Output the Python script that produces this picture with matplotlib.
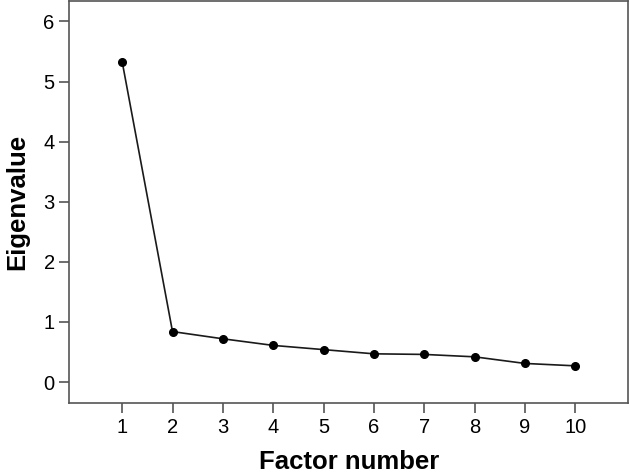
import matplotlib
matplotlib.use('Agg')
import matplotlib.pyplot as plt

factors = [1, 2, 3, 4, 5, 6, 7, 8, 9, 10]
eigenvalues = [5.33, 0.84, 0.72, 0.61, 0.54, 0.47, 0.46, 0.42, 0.31, 0.27]
y_ticks = [0, 1, 2, 3, 4, 5, 6]

plt.rcParams['font.family'] = ['Liberation Sans', 'DejaVu Sans']

fig = plt.figure(figsize=(6.3, 4.76), dpi=100)
ax = fig.add_axes([0.110, 0.1544, 0.887, 0.8435])

ax.plot(factors, eigenvalues, color='#1a1a1a', linewidth=1.2,
        marker='o', markersize=5.5, markerfacecolor='black', markeredgecolor='black')

ax.set_xlim(-0.05, 11.05)
ax.set_ylim(-0.34, 6.34)
ax.set_xticks(factors)
ax.set_yticks(y_ticks)

for s in ax.spines.values():
    s.set_color('#555555')
    s.set_linewidth(1.2)
ax.tick_params(axis='both', colors='#555555', labelcolor='black',
               length=7, width=1.2, labelsize=14.5)
ax.tick_params(axis='x', pad=4)
ax.tick_params(axis='y', pad=3.5)

ax.set_xlabel('Factor number', fontsize=18.5, fontweight='bold')
ax.set_ylabel('Eigenvalue', fontsize=18.5, fontweight='bold')
ax.xaxis.set_label_coords(0.5, -0.118)
ax.yaxis.set_label_coords(-0.071, 0.5)

fig.savefig('out.png', dpi=100)
